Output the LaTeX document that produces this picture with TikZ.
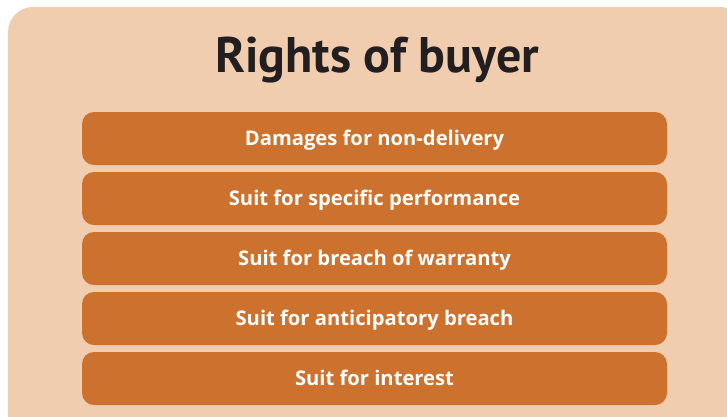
\documentclass[tikz,border=0pt]{standalone}
\usepackage{fontspec}
\setmainfont{PT Sans}
\newfontfamily\labelfont{Open Sans}
\usepackage{xcolor}
\definecolor{paneltan}{RGB}{239,205,174}
\definecolor{rightorange}{RGB}{204,113,46}
\definecolor{titleblack}{RGB}{35,31,32}
\usetikzlibrary{positioning}

\begin{document}
\begin{tikzpicture}[
    x=1pt, y=-1pt,
    rightbox/.style={rectangle, fill=rightorange, rounded corners=12pt, minimum width=585pt, minimum height=53pt,
        text=white, font=\labelfont\fontsize{20.2}{22}\selectfont\bfseries, text height=14pt, text depth=0pt, inner sep=0pt},
    heading/.style={text=titleblack, font=\fontsize{50}{56}\selectfont\bfseries, inner sep=0pt}
]
    \clip (0,0) rectangle (727,416);
    \fill[paneltan, rounded corners=25pt] (8,7) rectangle (745,440);

    \node[heading, anchor=base] (title) at (377,72) {Rights of buyer};

    % the five rights, top to bottom
    \node[rightbox] (damages) at (374.5,138.5) {Damages for non-delivery};
    \node[rightbox] (specific) at (374.5,198.5) {Suit for specific performance};
    \node[rightbox] (warranty) at (374.5,258.5) {Suit for breach of warranty};
    \node[rightbox] (anticipatory) at (374.5,318.5) {Suit for anticipatory breach};
    \node[rightbox] (interest) at (374.5,378.5) {Suit for interest};
\end{tikzpicture}
\end{document}
